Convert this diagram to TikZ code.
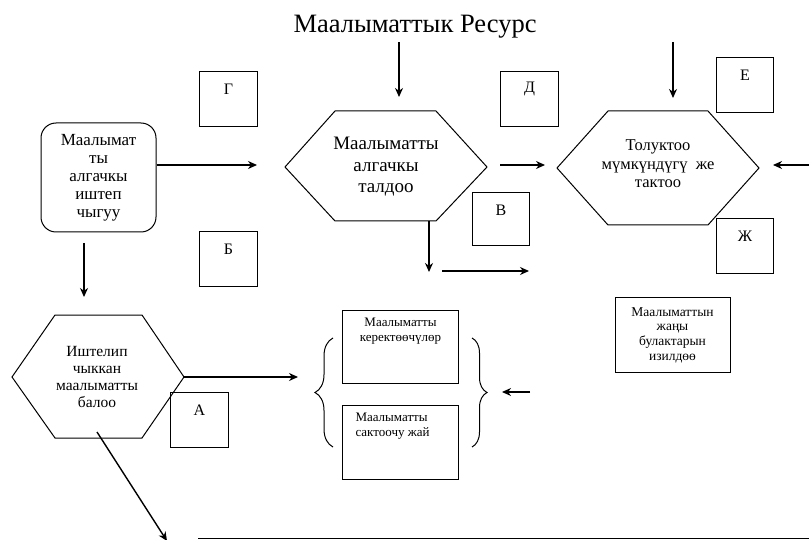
\documentclass[tikz,border=0pt]{standalone}
\usepackage{fontspec}
\setmainfont{Liberation Serif}
\usetikzlibrary{arrows.meta,decorations.pathreplacing}
\begin{document}
\begin{tikzpicture}[x=1pt,y=-1pt,
  arr/.style={line width=1.4pt,-{Stealth[length=9pt,width=8pt]}},
  edge/.style={line width=1pt},
  lbox/.style={draw,line width=1pt,minimum width=58pt,minimum height=55pt,anchor=north west,inner sep=0pt},
  lbl/.style={anchor=center,yshift=-18pt,font=\fontsize{16}{18}\selectfont},
  plain/.style={draw,line width=1pt,inner sep=0pt},
  brc/.style={line width=1pt,decorate},
]
\useasboundingbox (0,0) rectangle (809,540);

% title
\node[font=\fontsize{26.5}{30}\selectfont] (title) at (415,27) {Маалыматтык Ресурс};

% letter boxes
\node[lbox,label={[lbl]north:Г}] (G) at (199,71) {};
\node[lbox,label={[lbl]north:Д}] (D) at (500,71) {};
\node[lbox,minimum width=57pt,label={[lbl]north:Е}] (E) at (716,57) {};
\node[lbox,label={[lbl]north:Б}] (B) at (199,231) {};
\node[lbox,minimum width=57pt,minimum height=53pt,label={[lbl]north:В}] (V) at (472,192) {};
\node[lbox,minimum width=57pt,label={[lbl]north:Ж}] (Zh) at (716,218) {};
\node[lbox,label={[lbl]north:А}] (A) at (170,392) {};

% rounded source box
\node[plain,rounded corners=15pt,minimum width=115pt,minimum height=109pt,align=center,
      font=\fontsize{17}{18}\selectfont] (src) at (98.5,177.5)
      {Маалымат\\ты\\алгачкы\\иштеп\\чыгуу};

% hexagon: analysis
\draw[edge] (285,167) -- (335,111) -- (436,111) -- (487,167) -- (436,221) -- (335,221) -- cycle;
\node[align=center,font=\fontsize{19}{21.5}\selectfont] (anl) at (386,167) {Маалыматты\\алгачкы\\талдоо};

% hexagon: refine
\draw[edge] (557,168) -- (608,111) -- (708,111) -- (759,168) -- (708,225) -- (608,225) -- cycle;
\node[align=center,font=\fontsize{16.5}{18.5}\selectfont] (ref) at (658,164) {Толуктоо\\мүмкүндүгү\ \ же\\тактоо};

% hexagon: evaluation
\draw[edge] (12,377) -- (55,315) -- (142,315) -- (184,377) -- (142,438) -- (55,438) -- cycle;
\node[align=center,font=\fontsize{15.5}{16.7}\selectfont] (ev) at (97,377) {Иштелип\\чыккан\\маалыматты\\балоо};

% new sources box
\node[plain,minimum width=115pt,minimum height=74pt,align=center,
      font=\fontsize{13.5}{14.7}\selectfont] (new) at (672.5,335)
      {Маалыматтын\\жаңы\\булактарын\\изилдөө};

% consumers & storage
\node[plain,minimum width=116pt,minimum height=73pt,anchor=north west,
      label={[anchor=north,yshift=-4pt,align=center,font=\fontsize{13}{15}\selectfont]north:Маалыматты\\керектөөчүлөр}] (cons) at (342,310) {};
\node[plain,minimum width=116pt,minimum height=74pt,anchor=north west,
      label={[anchor=north west,xshift=10pt,yshift=-4pt,align=left,font=\fontsize{13}{15}\selectfont]north west:Маалыматты\\сактоочу жай}] (stor) at (342,405) {};

% braces
\draw[brc,decoration={brace,amplitude=18pt,aspect=0.5}] (333,447) -- (333,338);
\draw[brc,decoration={brace,amplitude=15pt,aspect=0.5}] (472,338) -- (472,447);

% free connector ends
\coordinate (c1) at (399,97);
\coordinate (c2) at (257,165);
\coordinate (c3a) at (84,243);
\coordinate (c3b) at (84,297);
\coordinate (c4) at (298,377);
\coordinate (c5a) at (97,432);
\coordinate (c5b) at (167,541);
\coordinate (c6a) at (500,165);
\coordinate (c6b) at (545,165);
\coordinate (c7a) at (429,221);
\coordinate (c7b) at (429,272);
\coordinate (c8a) at (442,271);
\coordinate (c8b) at (529,271);
\coordinate (c9a) at (673,42);
\coordinate (c9b) at (673,98);
\coordinate (c10a) at (809,165);
\coordinate (c10b) at (773,165);
\coordinate (c11a) at (530,392);
\coordinate (c11b) at (502,392);
\coordinate (c12a) at (198,538);
\coordinate (c12b) at (809,538);
\coordinate (evr) at (184,377);

% connectors
\draw[arr] (title.south -| c1) -- (c1);
\draw[arr] (src.east |- c2) -- (c2);
\draw[arr] (c3a) -- (c3b);
\draw[arr] (evr) -- (c4);
\draw[arr] (c5a) -- (c5b);
\draw[arr] (c6a) -- (c6b);
\draw[arr] (c7a) -- (c7b);
\draw[arr] (c8a) -- (c8b);
\draw[arr] (c9a) -- (c9b);
\draw[arr] (c10a) -- (c10b);
\draw[arr] (c11a) -- (c11b);
\draw[edge] (c12a) -- (c12b);
\end{tikzpicture}
\end{document}
